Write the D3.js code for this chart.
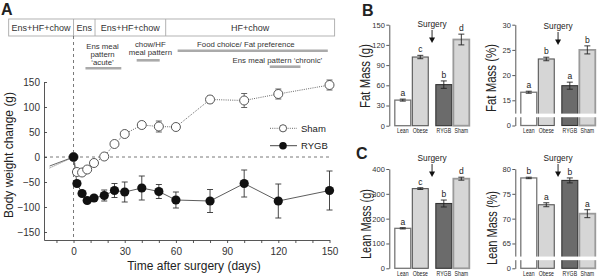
<!DOCTYPE html>
<html>
<head>
<meta charset="utf-8">
<script src="https://cdn.jsdelivr.net/npm/d3@7"></script>
<style>
  body { margin: 0; background: #fff; }
  svg { font-family: "Liberation Sans", Arial, sans-serif; }
  .axis path, .axis line { stroke: #444; stroke-width: 0.9; }
  .axis text { fill: #333; }
</style>
</head>
<body>
<svg id="chart" width="605" height="277"></svg>
<script>
// ---------- Panel A: body weight change ----------
const days     = [0, 2, 5, 8, 12, 18, 24, 30, 40, 50, 60, 80, 100, 120, 150];
const shamMean = [0, -30, -31, -25, -12, 1, 26, 46, 64, 61, 60, 115, 113, 126, 144];
const shamErr  = [0, 3, 3, 4, 4, 4, 4, 4, 7, 11, 5, 7, 14, 10, 10];
const rygbMean = [0, -53, -73, -87, -82, -77, -67, -70, -62, -69, -86, -88, -53, -88, -67];
const rygbErr  = [0, 3, 4, 4, 5, 11, 14, 20, 24, 14, 16, 23, 27, 34, 39];
// pre-surgery segment (no markers)
const preDays = [-14, 0];
const shamPre = [-22, 0];
const rygbPre = [-18, 0];

// diet periods shown in the box above panel A (days)
const dietLabels = ["Ens+HF+chow", "Ens", "Ens+HF+chow", "HF+chow"];
const dietBounds = [-38, 0, 12.6, 54, 153];

// test annotations and the day ranges they cover
const noteLines  = [["Ens meal", "pattern", "\u2018acute\u2019"], ["chow/HF", "meal pattern"],
                    ["Food choice/ Fat preference"], ["Ens meal pattern \u2018chronic\u2019"]];
const noteCenter = [17, 45, 101, 119.5];
const noteStart  = [7, 37, 61, 115];
const noteEnd    = [28, 50.5, 149, 133];

// ---------- Panels B and C: body composition ----------
const groups      = ["Lean", "Obese", "RYGB", "Sham"];
const fatMassG    = [38, 102, 61, 128];
const fatMassGErr = [1.5, 2.5, 5.5, 8];
const fatMassP    = [16.6, 23.2, 17.9, 25.0];
const fatMassPErr = [0.2, 0.35, 0.7, 0.8];
const leanMassG   = [161, 321, 261, 361];
const leanMassGErr = [2.5, 3.5, 14, 6];
const leanMassP   = [78.2, 72.8, 77.7, 71.0];
const leanMassPErr = [0.15, 0.4, 0.5, 0.8];
const fatGLetters  = ["a", "c", "b", "d"];
const fatPLetters  = ["a", "b", "a", "b"];
const leanGLetters = ["a", "c", "b", "d"];
const leanPLetters = ["b", "a", "b", "a"];

const svg = d3.select("#chart");
const ink = "#222";

// panel letters
svg.append("text").attr("x", 1).attr("y", 15).text("A")
  .attr("font-size", 16).attr("font-weight", "bold").attr("fill", ink);
svg.append("text").attr("x", 362).attr("y", 16).text("B")
  .attr("font-size", 16).attr("font-weight", "bold").attr("fill", ink);
svg.append("text").attr("x", 356).attr("y", 159).text("C")
  .attr("font-size", 16).attr("font-weight", "bold").attr("fill", ink);

// ===== Panel A =====
const x = d3.scaleLinear().domain([-17.3, 150]).range([44, 329.5]);
const y = d3.scaleLinear().domain([-166, 150]).range([240, 82]);

// diet box
const box = svg.append("g");
box.append("rect")
  .attr("x", x(dietBounds[0])).attr("y", 19)
  .attr("width", x(dietBounds[4]) - x(dietBounds[0])).attr("height", 17)
  .attr("fill", "none").attr("stroke", "#aaa").attr("stroke-width", 0.9);
box.selectAll("line.div")
  .data(dietBounds.slice(1, 4))
  .enter().append("line")
  .attr("x1", d => x(d)).attr("x2", d => x(d))
  .attr("y1", 19).attr("y2", 36)
  .attr("stroke", "#aaa").attr("stroke-width", 0.9);
box.selectAll("text")
  .data(dietLabels)
  .enter().append("text")
  .attr("x", (d, i) => (x(dietBounds[i]) + x(dietBounds[i + 1])) / 2)
  .attr("y", 30.8)
  .attr("text-anchor", "middle")
  .attr("font-size", 9).attr("fill", "#333")
  .text(d => d);

// annotation texts and grey bars
const noteTextY = [46, 43.7, 44, 60.3];
const noteBarY  = [68.3, 60.3, 50.7, 66.7];
noteLines.forEach((lines, i) => {
  lines.forEach((t, j) => {
    svg.append("text")
      .attr("x", x(noteCenter[i]))
      .attr("y", noteTextY[i] + j * 8.3 + 2.8)
      .attr("text-anchor", "middle")
      .attr("font-size", 7.8).attr("fill", "#333")
      .text(t);
  });
  svg.append("line")
    .attr("x1", x(noteStart[i])).attr("x2", x(noteEnd[i]))
    .attr("y1", noteBarY[i]).attr("y2", noteBarY[i])
    .attr("stroke", "#aaa").attr("stroke-width", 2.6);
});

// reference dashed lines
svg.append("line")
  .attr("x1", x(0)).attr("x2", x(0)).attr("y1", 36).attr("y2", 240)
  .attr("stroke", "#555").attr("stroke-width", 0.8).attr("stroke-dasharray", "3,3");
svg.append("line")
  .attr("x1", 44).attr("x2", x(150)).attr("y1", y(0)).attr("y2", y(0))
  .attr("stroke", "#555").attr("stroke-width", 0.8).attr("stroke-dasharray", "3,3");

// axes
svg.append("g").attr("class", "axis")
  .attr("transform", "translate(44,0)")
  .call(d3.axisLeft(y).tickValues([-150, -100, -50, 0, 50, 100, 150])
    .tickSize(-3).tickSizeOuter(0).tickPadding(4))
  .call(g => g.selectAll("text").attr("font-size", 10));
svg.append("g").attr("class", "axis")
  .attr("transform", "translate(0,240)")
  .call(d3.axisBottom(x).tickValues([0, 30, 60, 90, 120, 150])
    .tickSize(3).tickSizeOuter(0).tickPadding(5))
  .call(g => g.selectAll("text").attr("font-size", 10));
svg.append("g").attr("class", "axis")
  .attr("transform", "translate(0,240)")
  .call(d3.axisBottom(x).tickValues([-10, 10, 20, 40, 50, 70, 80, 100, 110, 130, 140])
    .tickSize(3).tickFormat(""))
  .call(g => g.select(".domain").remove());

svg.append("text")
  .attr("transform", "translate(12.5,155) rotate(-90)")
  .attr("text-anchor", "middle").attr("font-size", 12).attr("fill", ink)
  .text("Body weight change (g)");
svg.append("text")
  .attr("x", 194).attr("y", 269.5)
  .attr("text-anchor", "middle").attr("font-size", 12).attr("fill", ink)
  .text("Time after surgery (days)");

// series
const line = d3.line().x(d => x(d[0])).y(d => y(d[1]));
const shamPts = days.map((d, i) => [d, shamMean[i], shamErr[i]]);
const rygbPts = days.map((d, i) => [d, rygbMean[i], rygbErr[i]]);

svg.append("path").datum(preDays.map((d, i) => [d, shamPre[i]]))
  .attr("d", line).attr("fill", "none")
  .attr("stroke", "#555").attr("stroke-width", 0.9).attr("stroke-dasharray", "1,1.2");
svg.append("path").datum(preDays.map((d, i) => [d, rygbPre[i]]))
  .attr("d", line).attr("fill", "none")
  .attr("stroke", "#444").attr("stroke-width", 0.8);

svg.append("path").datum(shamPts)
  .attr("d", line).attr("fill", "none")
  .attr("stroke", "#555").attr("stroke-width", 0.9).attr("stroke-dasharray", "1,1.2");
svg.append("path").datum(rygbPts)
  .attr("d", line).attr("fill", "none")
  .attr("stroke", "#333").attr("stroke-width", 0.8);

function errorBars(pts, color) {
  const g = svg.append("g").attr("stroke", color).attr("stroke-width", 0.9);
  pts.filter(p => p[2] > 0).forEach(p => {
    const cx = x(p[0]), top = y(p[1] + p[2]), bot = y(p[1] - p[2]);
    g.append("line").attr("x1", cx).attr("x2", cx).attr("y1", top).attr("y2", bot);
    g.append("line").attr("x1", cx - 3).attr("x2", cx + 3).attr("y1", top).attr("y2", top);
    g.append("line").attr("x1", cx - 3).attr("x2", cx + 3).attr("y1", bot).attr("y2", bot);
  });
}
errorBars(shamPts, "#555");
errorBars(rygbPts, "#333");

svg.append("g").selectAll("circle")
  .data(shamPts)
  .enter().append("circle")
  .attr("cx", d => x(d[0])).attr("cy", d => y(d[1])).attr("r", 4.5)
  .attr("fill", "#fff").attr("stroke", "#444").attr("stroke-width", 0.9);
svg.append("g").selectAll("circle")
  .data(rygbPts)
  .enter().append("circle")
  .attr("cx", d => x(d[0])).attr("cy", d => y(d[1])).attr("r", 4.6)
  .attr("fill", "#111");

// legend
const legend = [["Sham", 128.3], ["RYGB", 145.7]];
legend.forEach(([name, ly]) => {
  const sham = name === "Sham";
  svg.append("line").attr("x1", 270).attr("x2", 297).attr("y1", ly).attr("y2", ly)
    .attr("stroke", sham ? "#555" : "#333").attr("stroke-width", 0.9)
    .attr("stroke-dasharray", sham ? "1,1.2" : null);
  svg.append("circle").attr("cx", 283).attr("cy", ly).attr("r", sham ? 3.6 : 3.8)
    .attr("fill", sham ? "#fff" : "#111").attr("stroke", sham ? "#444" : "none")
    .attr("stroke-width", 0.9);
  svg.append("text").attr("x", 301).attr("y", ly + 3.4)
    .attr("font-size", 9.5).attr("fill", ink).text(name);
});

// ===== Panels B and C =====
const barFill   = { Lean: "#fff", Obese: "#d6d6d6", RYGB: "#6b6b6b", Sham: "#d6d6d6" };
const barStroke = { Lean: "#777", Obese: "#555", RYGB: "#333", Sham: "#9a9a9a" };
const barWidth  = { Lean: 1.3, Obese: 1.1, RYGB: 1.1, Sham: 1.8 };

function barPanel(o) {
  const py = d3.scaleLinear().domain(o.domain).range([o.y0, o.y1]);
  const px = d3.scaleBand().domain(groups).range([o.ax + 5.5, o.ax + 74]).paddingInner(0.09);
  const bw = px.bandwidth();
  const bx = gname => px(gname) + (gname === "RYGB" || gname === "Sham" ? 6 : 0);
  const g = svg.append("g");

  g.append("g").attr("class", "axis")
    .attr("transform", `translate(${o.ax},0)`)
    .call(d3.axisLeft(py).tickValues(o.ticks).tickFormat(o.fmt || (d => d))
      .tickSize(3).tickSizeOuter(0).tickPadding(1.5))
    .call(a => a.selectAll("text").attr("font-size", 7.5));

  // bars
  g.selectAll("rect.bar")
    .data(groups)
    .enter().append("rect")
    .attr("x", d => bx(d)).attr("width", bw)
    .attr("y", (d, i) => py(o.values[i]))
    .attr("height", (d, i) => o.y0 - py(o.values[i]))
    .attr("fill", d => barFill[d]).attr("stroke", d => barStroke[d])
    .attr("stroke-width", d => barWidth[d]);

  // error bars, significance letters and group names
  groups.forEach((d, i) => {
    const cx = bx(d) + bw / 2;
    const top = py(o.values[i] + o.errs[i]), bot = py(o.values[i] - o.errs[i]);
    const eg = g.append("g").attr("stroke", "#222").attr("stroke-width", 0.9);
    eg.append("line").attr("x1", cx).attr("x2", cx).attr("y1", top).attr("y2", bot);
    eg.append("line").attr("x1", cx - 3).attr("x2", cx + 3).attr("y1", top).attr("y2", top);
    eg.append("line").attr("x1", cx - 3).attr("x2", cx + 3).attr("y1", bot).attr("y2", bot);
    g.append("text").attr("x", cx).attr("y", top - 3)
      .attr("text-anchor", "middle").attr("font-size", 8.5).attr("fill", ink)
      .text(o.letters[i]);
    // group names are drawn narrow, as in the original figure
    g.append("text")
      .attr("transform", `translate(${cx},${o.y0 + 7.3}) scale(0.7,1)`)
      .attr("text-anchor", "middle").attr("font-size", 7.4).attr("fill", ink)
      .text(d);
  });

  // axis break
  if (o.brk !== undefined) {
    g.append("rect")
      .attr("x", o.ax - 2).attr("y", py(o.brk) - 1.8)
      .attr("width", 86).attr("height", 3.6).attr("fill", "#fff");
  }

  // surgery arrow
  const ax = (px("Obese") + bw + bx("RYGB")) / 2;
  g.append("text").attr("x", ax).attr("y", o.sy)
    .attr("text-anchor", "middle").attr("font-size", 8.3).attr("fill", ink)
    .text("Surgery");
  g.append("line").attr("x1", ax).attr("x2", ax).attr("y1", o.sy + 3).attr("y2", o.sy + 12)
    .attr("stroke", "#111").attr("stroke-width", 0.9);
  g.append("path")
    .attr("d", `M${ax - 3},${o.sy + 10.5}L${ax + 3},${o.sy + 10.5}L${ax},${o.sy + 16}Z`)
    .attr("fill", "#111");

  // y label
  g.append("text")
    .attr("transform", `translate(${o.lx},${o.ly}) rotate(-90)`)
    .attr("text-anchor", "middle").attr("font-size", 14).attr("fill", ink)
    .attr("textLength", o.llen).attr("lengthAdjust", "spacingAndGlyphs")
    .text(o.label);
}

barPanel({ ax: 389.3, y0: 125.7, y1: 24.7, domain: [0, 150], ticks: [0, 30, 60, 90, 120, 150],
  values: fatMassG, errs: fatMassGErr, letters: fatGLetters, sy: 27,
  label: "Fat Mass (g)", lx: 370, ly: 76, llen: 64 });
barPanel({ ax: 515.3, y0: 125.5, y1: 24.7, domain: [10, 30], ticks: [10, 15, 20, 25, 30],
  fmt: d => d === 10 ? "0" : d, brk: 12,
  values: fatMassP, errs: fatMassPErr, letters: fatPLetters, sy: 29,
  label: "Fat Mass (%)", lx: 496, ly: 78, llen: 68 });
barPanel({ ax: 389.3, y0: 268.3, y1: 169, domain: [0, 400], ticks: [0, 100, 200, 300, 400],
  values: leanMassG, errs: leanMassGErr, letters: leanGLetters, sy: 161,
  label: "Lean Mass (g)", lx: 370.5, ly: 224, llen: 70 });
barPanel({ ax: 515.3, y0: 268.3, y1: 169, domain: [60, 80], ticks: [60, 65, 70, 75, 80],
  fmt: d => d === 60 ? "0" : d, brk: 62,
  values: leanMassP, errs: leanMassPErr, letters: leanPLetters, sy: 161,
  label: "Lean Mass (%)", lx: 496.5, ly: 228, llen: 74 });
</script>
</body>
</html>
